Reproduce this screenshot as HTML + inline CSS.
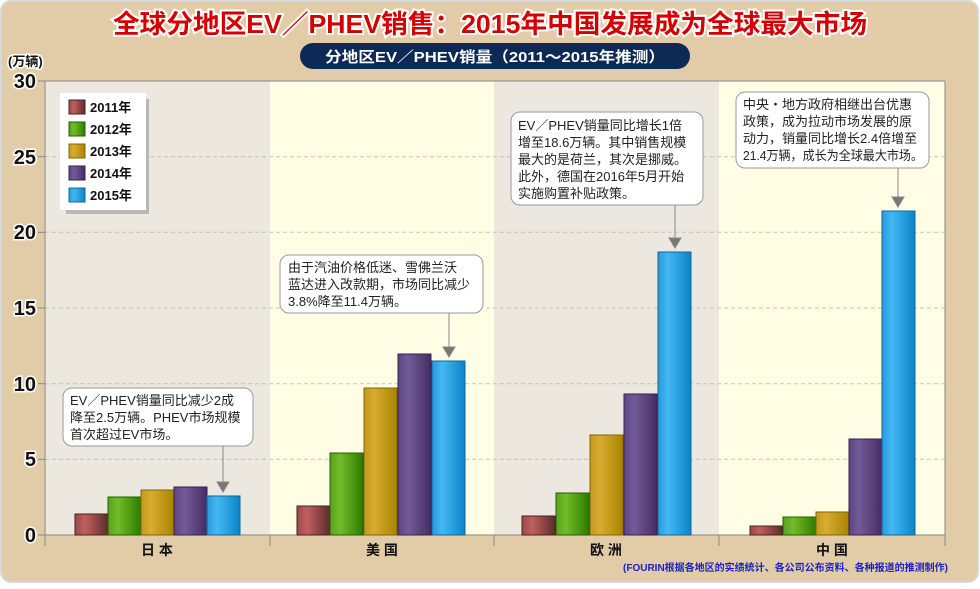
<!DOCTYPE html>
<html><head><meta charset="utf-8"><style>
body{margin:0;background:#fff;}
text{font-family:"Liberation Sans","Noto Sans CJK SC",sans-serif;}
</style></head><body>
<svg width="980" height="584" viewBox="0 0 980 584" xmlns="http://www.w3.org/2000/svg">
<defs>
<linearGradient id="g1" x1="0" x2="1"><stop offset="0" stop-color="#9a4848"/><stop offset="0.3" stop-color="#c06060"/><stop offset="1" stop-color="#5e2c2c"/></linearGradient>
<linearGradient id="g2" x1="0" x2="1"><stop offset="0" stop-color="#5aa020"/><stop offset="0.3" stop-color="#72bc28"/><stop offset="1" stop-color="#2e7c00"/></linearGradient>
<linearGradient id="g3" x1="0" x2="1"><stop offset="0" stop-color="#c09a20"/><stop offset="0.3" stop-color="#d8ac30"/><stop offset="1" stop-color="#a88400"/></linearGradient>
<linearGradient id="g4" x1="0" x2="1"><stop offset="0" stop-color="#5a4684"/><stop offset="0.3" stop-color="#725c98"/><stop offset="1" stop-color="#452c64"/></linearGradient>
<linearGradient id="g5" x1="0" x2="1"><stop offset="0" stop-color="#2a98dc"/><stop offset="0.3" stop-color="#44b8f2"/><stop offset="1" stop-color="#0a84c8"/></linearGradient>
</defs>
<rect x="1" y="1" width="977" height="581" rx="10" fill="#e2cca8" stroke="#d8d8d8" stroke-width="2"/>
<text x="490" y="33" text-anchor="middle" font-size="26" font-weight="bold" fill="#d40000" stroke="#fff" stroke-width="4" paint-order="stroke" textLength="754" lengthAdjust="spacingAndGlyphs">全球分地区EV／PHEV销售：2015年中国发展成为全球最大市场</text>
<rect x="300" y="43" width="390" height="26" rx="13" fill="#0c2a55"/>
<text x="495" y="62" text-anchor="middle" font-size="15" font-weight="bold" fill="#fff" textLength="340" lengthAdjust="spacingAndGlyphs">分地区EV／PHEV销量（2011～2015年推测）</text>
<text x="8" y="66" font-size="13" font-weight="bold" fill="#111" stroke="#fff" stroke-width="3" paint-order="stroke">(万辆)</text>
<rect x="45" y="81" width="225" height="454" fill="#ece7df"/>
<rect x="270" y="81" width="224" height="454" fill="#fffee4"/>
<rect x="494" y="81" width="225" height="454" fill="#ece7df"/>
<rect x="719" y="81" width="226" height="454" fill="#fffee4"/>
<g stroke="#c8c4b8" stroke-dasharray="4,3">
<line x1="45" x2="945" y1="156.7" y2="156.7"/><line x1="45" x2="945" y1="232.3" y2="232.3"/><line x1="45" x2="945" y1="308" y2="308"/><line x1="45" x2="945" y1="383.7" y2="383.7"/><line x1="45" x2="945" y1="459.3" y2="459.3"/>
</g>
<g stroke="#888"><line x1="45" x2="945" y1="81" y2="81"/><line x1="45" x2="45" y1="81" y2="535"/><line x1="945" x2="945" y1="81" y2="535"/><line x1="45" x2="945" y1="535" y2="535"/>
<line x1="45" x2="45" y1="535" y2="546"/><line x1="270" x2="270" y1="535" y2="546"/><line x1="494" x2="494" y1="535" y2="546"/><line x1="719" x2="719" y1="535" y2="546"/><line x1="945" x2="945" y1="535" y2="546"/>
<line x1="38" x2="45" y1="81" y2="81"/><line x1="38" x2="45" y1="156.7" y2="156.7"/><line x1="38" x2="45" y1="232.3" y2="232.3"/><line x1="38" x2="45" y1="308" y2="308"/><line x1="38" x2="45" y1="383.7" y2="383.7"/><line x1="38" x2="45" y1="459.3" y2="459.3"/><line x1="38" x2="45" y1="535" y2="535"/></g>
<g font-size="20" font-weight="bold" fill="#111" text-anchor="end" stroke="#fff" stroke-width="3" paint-order="stroke">
<text x="36" y="88">30</text><text x="36" y="164">25</text><text x="36" y="239">20</text><text x="36" y="315">15</text><text x="36" y="391">10</text><text x="36" y="466">5</text><text x="36" y="542">0</text></g>
<g font-size="14" font-weight="bold" fill="#111" text-anchor="middle">
<text x="157" y="555">日 本</text><text x="382" y="555">美 国</text><text x="606" y="555">欧 洲</text><text x="832" y="555">中 国</text></g>
<text x="948" y="571" text-anchor="end" font-size="10" font-weight="bold" fill="#1a20c8">(FOURIN根据各地区的实绩统计、各公司公布资料、各种报道的推测制作)</text>
<g stroke-width="1">
<rect x="75" y="514" width="33" height="21" fill="url(#g1)" stroke="#4a2020"/>
<rect x="108" y="497" width="33" height="38" fill="url(#g2)" stroke="#1e6000"/>
<rect x="141" y="490" width="33" height="45" fill="url(#g3)" stroke="#806800"/>
<rect x="174" y="487" width="33" height="48" fill="url(#g4)" stroke="#38204e"/>
<rect x="207" y="496" width="33" height="39" fill="url(#g5)" stroke="#0a6aa0"/>
<rect x="297" y="506" width="33" height="29" fill="url(#g1)" stroke="#4a2020"/>
<rect x="330" y="453" width="33" height="82" fill="url(#g2)" stroke="#1e6000"/>
<rect x="364" y="388" width="33" height="147" fill="url(#g3)" stroke="#806800"/>
<rect x="398" y="354" width="33" height="181" fill="url(#g4)" stroke="#38204e"/>
<rect x="432" y="361" width="33" height="174" fill="url(#g5)" stroke="#0a6aa0"/>
<rect x="522" y="516" width="33" height="19" fill="url(#g1)" stroke="#4a2020"/>
<rect x="556" y="493" width="33" height="42" fill="url(#g2)" stroke="#1e6000"/>
<rect x="590" y="435" width="33" height="100" fill="url(#g3)" stroke="#806800"/>
<rect x="624" y="394" width="33" height="141" fill="url(#g4)" stroke="#38204e"/>
<rect x="658" y="252" width="33" height="283" fill="url(#g5)" stroke="#0a6aa0"/>
<rect x="750" y="526" width="32" height="9" fill="url(#g1)" stroke="#4a2020"/>
<rect x="783" y="517" width="33" height="18" fill="url(#g2)" stroke="#1e6000"/>
<rect x="816" y="512" width="33" height="23" fill="url(#g3)" stroke="#806800"/>
<rect x="849" y="439" width="33" height="96" fill="url(#g4)" stroke="#38204e"/>
<rect x="882" y="211" width="33" height="324" fill="url(#g5)" stroke="#0a6aa0"/>
</g>
<rect x="63" y="96" width="83" height="115" fill="#999" opacity="0.6" transform="translate(3,3)"/>
<rect x="60" y="93" width="86" height="117" fill="#fff"/>
<g font-size="13" font-weight="bold" fill="#111">
<rect x="69" y="100" width="16" height="14" fill="url(#g1)" stroke="#4a2020"/><text x="90" y="112">2011年</text>
<rect x="69" y="122" width="16" height="14" fill="url(#g2)" stroke="#1e6000"/><text x="90" y="134">2012年</text>
<rect x="69" y="144" width="16" height="14" fill="url(#g3)" stroke="#806800"/><text x="90" y="156">2013年</text>
<rect x="69" y="166" width="16" height="14" fill="url(#g4)" stroke="#38204e"/><text x="90" y="178">2014年</text>
<rect x="69" y="188" width="16" height="14" fill="url(#g5)" stroke="#0a6aa0"/><text x="90" y="200">2015年</text>
</g>
<g stroke="#888" fill="#777">
<line x1="223" x2="223" y1="446" y2="483"/><path d="M217 482h12l-6 10z"/>
<line x1="449" x2="449" y1="313" y2="348"/><path d="M443 347h12l-6 10z"/>
<line x1="675" x2="675" y1="205" y2="239"/><path d="M669 238h12l-6 10z"/>
<line x1="898" x2="898" y1="168" y2="198"/><path d="M892 197h12l-6 10z"/>
</g>
<g fill="#fff" stroke="#999">
<rect x="63" y="388" width="190" height="58" rx="9"/>
<rect x="280" y="255" width="203" height="58" rx="9"/>
<rect x="511" y="112" width="192" height="93" rx="9"/>
<rect x="736" y="92" width="193" height="76" rx="9"/>
</g>
<g font-size="13" fill="#222">
<text x="70" y="405">EV／PHEV销量同比减少2成</text><text x="70" y="422">降至2.5万辆。PHEV市场规模</text><text x="70" y="439">首次超过EV市场。</text>
<text x="288" y="272">由于汽油价格低迷、雪佛兰沃</text><text x="288" y="289">蓝达进入改款期，市场同比减少</text><text x="288" y="306">3.8%降至11.4万辆。</text>
<text x="518" y="130">EV／PHEV销量同比增长1倍</text><text x="518" y="147">增至18.6万辆。其中销售规模</text><text x="518" y="164">最大的是荷兰，其次是挪威。</text><text x="518" y="181">此外，德国在2016年5月开始</text><text x="518" y="198">实施购置补贴政策。</text>
<text x="743" y="109">中央・地方政府相继出台优惠</text><text x="743" y="126">政策，成为拉动市场发展的原</text><text x="743" y="143">动力，销量同比增长2.4倍增至</text><text x="743" y="160" textLength="180" lengthAdjust="spacingAndGlyphs">21.4万辆，成长为全球最大市场。</text>
</g>
</svg>
</body></html>
